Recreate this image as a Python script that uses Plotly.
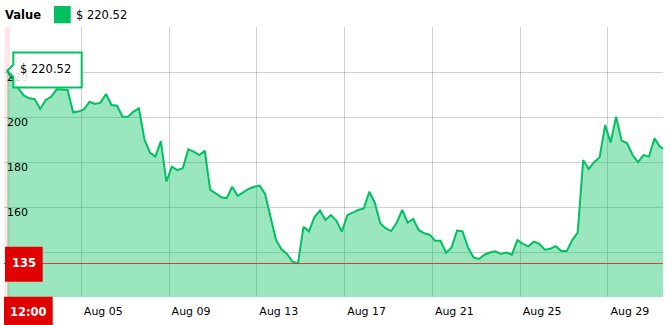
import plotly.graph_objects as go
import pandas as pd

# ---- data ----
times = pd.date_range("2019-08-01 15:00", periods=121, freq="6h")
values = [
    220.52, 216.5, 212.8, 209.6, 208.3, 207.9, 203.6, 207.6, 209.0, 212.3,
    212.0, 212.0, 202.1, 202.4, 203.5, 206.8, 205.8, 206.4, 210.2, 205.3,
    205.0, 200.1, 200.1, 202.4, 203.8, 190.1, 184.2, 182.4, 189.3, 171.3,
    177.9, 176.4, 177.2, 185.6, 184.6, 183.1, 185.0, 167.6, 166.1, 164.3,
    163.9, 169.0, 165.0, 166.4, 168.0, 169.0, 169.5, 165.8, 156.0, 145.3,
    141.2, 139.1, 135.7, 135.0, 151.2, 149.2, 155.5, 158.4, 154.2, 156.4,
    153.9, 149.0, 156.4, 157.5, 158.7, 159.4, 166.8, 161.9, 152.8, 150.5,
    149.3, 153.0, 158.7, 153.0, 154.7, 149.8, 148.3, 147.7, 145.0, 145.0,
    139.6, 142.0, 149.5, 149.2, 142.0, 137.6, 136.9, 138.8, 139.8, 140.3,
    139.1, 139.8, 138.8, 145.3, 143.6, 142.5, 144.6, 143.6, 141.0, 141.4,
    142.6, 140.4, 140.4, 145.3, 148.6, 180.9, 176.9, 179.9, 182.1, 196.4,
    188.6, 200.1, 189.5, 188.3, 183.1, 179.9, 183.1, 182.4, 190.5, 186.8,
    185.4,
]
x_tick_dates = ["2019-08-05", "2019-08-09", "2019-08-13", "2019-08-17",
                "2019-08-21", "2019-08-25", "2019-08-29"]
x_tick_labels = ["Aug 05", "Aug 09", "Aug 13", "Aug 17", "Aug 21", "Aug 25", "Aug 29"]
y_tick_vals = [120, 140, 160, 180, 200, 220, 240]
y_tick_labels = ["120", "140", "160", "180", "200", "220", ""]
series_name = "Value"
cursor_value = 135
cursor_time_label = "12:00"
hover_index = 0

# ---- style ----
GREEN = "#00c060"
RED = "#e00000"
FONT = "DejaVu Sans"
W, H = 671, 325
L, R, T, B = 4, 8, 27, 28
PW, PH = W - L - R, H - T - B


def px(x):
    return (x - L) / PW


def py(y):
    return (H - B - y) / PH


fig = go.Figure()
fig.add_trace(go.Scatter(
    x=times, y=values, mode="lines",
    line=dict(color=GREEN, width=2),
    fill="tozeroy", fillcolor="rgba(0,192,96,0.4)",
    hoverinfo="skip", showlegend=False,
))

t_hover = times[hover_index]
v_hover = values[hover_index]
t_str = t_hover.strftime("%Y-%m-%d %H:%M:%S")

shapes = [
    # cursor cell highlight
    dict(type="rect", xref="x", yref="paper",
         x0=(t_hover - pd.Timedelta(hours=3)).strftime("%Y-%m-%d %H:%M:%S"),
         x1=(t_hover + pd.Timedelta(hours=3)).strftime("%Y-%m-%d %H:%M:%S"),
         y0=0, y1=1, fillcolor="rgba(255,0,0,0.1)", line=dict(width=0), layer="below"),
    # cursor horizontal line (pixel-aligned)
    dict(type="line", xref="paper", yref="paper", x0=0, x1=1, y0=py(263.5), y1=py(263.5),
         line=dict(color="rgb(226,60,50)", width=1), layer="above"),
    # tooltip callout
    dict(type="path", xref="x", yref="y", xsizemode="pixel", ysizemode="pixel",
         xanchor=t_str, yanchor=v_hover,
         path="M 6,18.4 L 74.4,18.4 L 74.4,-16.6 L 6,-16.6 L 6,-6 L 0,0 L 6,6 Z",
         fillcolor="rgba(255,255,255,0.85)", line=dict(color=GREEN, width=2), layer="above"),
    # y cursor label box
    dict(type="rect", xref="paper", yref="paper", x0=px(5), x1=px(42.7), y0=py(281.7), y1=py(246.7),
         fillcolor=RED, line=dict(width=0), layer="above"),
    # x cursor label box
    dict(type="rect", xref="paper", yref="paper", x0=px(4), x1=px(52.7), y0=py(326), y1=py(296.7),
         fillcolor=RED, line=dict(width=0), layer="above"),
    # legend marker
    dict(type="rect", xref="paper", yref="paper", x0=px(54), x1=px(70.7), y0=py(23.3), y1=py(6),
         fillcolor=GREEN, line=dict(width=0), layer="above"),
]

annotations = [
    dict(xref="x", yref="y", x=t_str, y=v_hover, xshift=38.5, yshift=1.7,
         text=f"$ {v_hover:.2f}", showarrow=False, xanchor="center", yanchor="middle",
         font=dict(family=FONT, size=11.5, color="#000")),
    dict(xref="paper", yref="paper", x=px(23.5), y=py(263.3), text=f"<b>{cursor_value}</b>",
         showarrow=False, xanchor="center", yanchor="middle",
         font=dict(family=FONT, size=11.5, color="#fff")),
    dict(xref="paper", yref="paper", x=px(28.3), y=py(312.3), text=f"<b>{cursor_time_label}</b>",
         showarrow=False, xanchor="center", yanchor="middle",
         font=dict(family=FONT, size=11.5, color="#fff")),
    dict(xref="paper", yref="paper", x=px(3), y=py(15), text=f"<b>{series_name}</b>",
         showarrow=False, xanchor="left", yanchor="middle",
         font=dict(family=FONT, size=11.5, color="#000")),
    dict(xref="paper", yref="paper", x=px(74), y=py(15), text=f"$ {v_hover:.2f}",
         showarrow=False, xanchor="left", yanchor="middle",
         font=dict(family=FONT, size=11.5, color="#000")),
]

fig.update_layout(
    width=W, height=H,
    margin=dict(l=L, r=R, t=T, b=B, pad=0),
    paper_bgcolor="white", plot_bgcolor="white",
    showlegend=False,
    shapes=shapes, annotations=annotations,
    font=dict(family=FONT, size=11, color="#000"),
    xaxis=dict(
        type="date",
        range=["2019-08-01 11:24:00", "2019-08-31 12:18:00"],
        tickvals=x_tick_dates, ticktext=x_tick_labels,
        showgrid=True, gridcolor="rgba(0,0,0,0.18)", gridwidth=1,
        zeroline=False, showline=False, ticks="",
        ticklabelshift=22, ticklabelstandoff=6,
        tickfont=dict(family=FONT, size=11, color="#000"),
        fixedrange=True,
    ),
    yaxis=dict(
        range=[120, 240],
        tickvals=y_tick_vals, ticktext=y_tick_labels,
        showgrid=True, gridcolor="rgba(0,0,0,0.18)", gridwidth=1,
        zeroline=False, showline=False, ticks="",
        ticklabelposition="inside", ticklabelshift=5,
        tickfont=dict(family=FONT, size=11, color="#000"),
        fixedrange=True,
    ),
)

fig.write_html("out.html", config={"displayModeBar": False})
